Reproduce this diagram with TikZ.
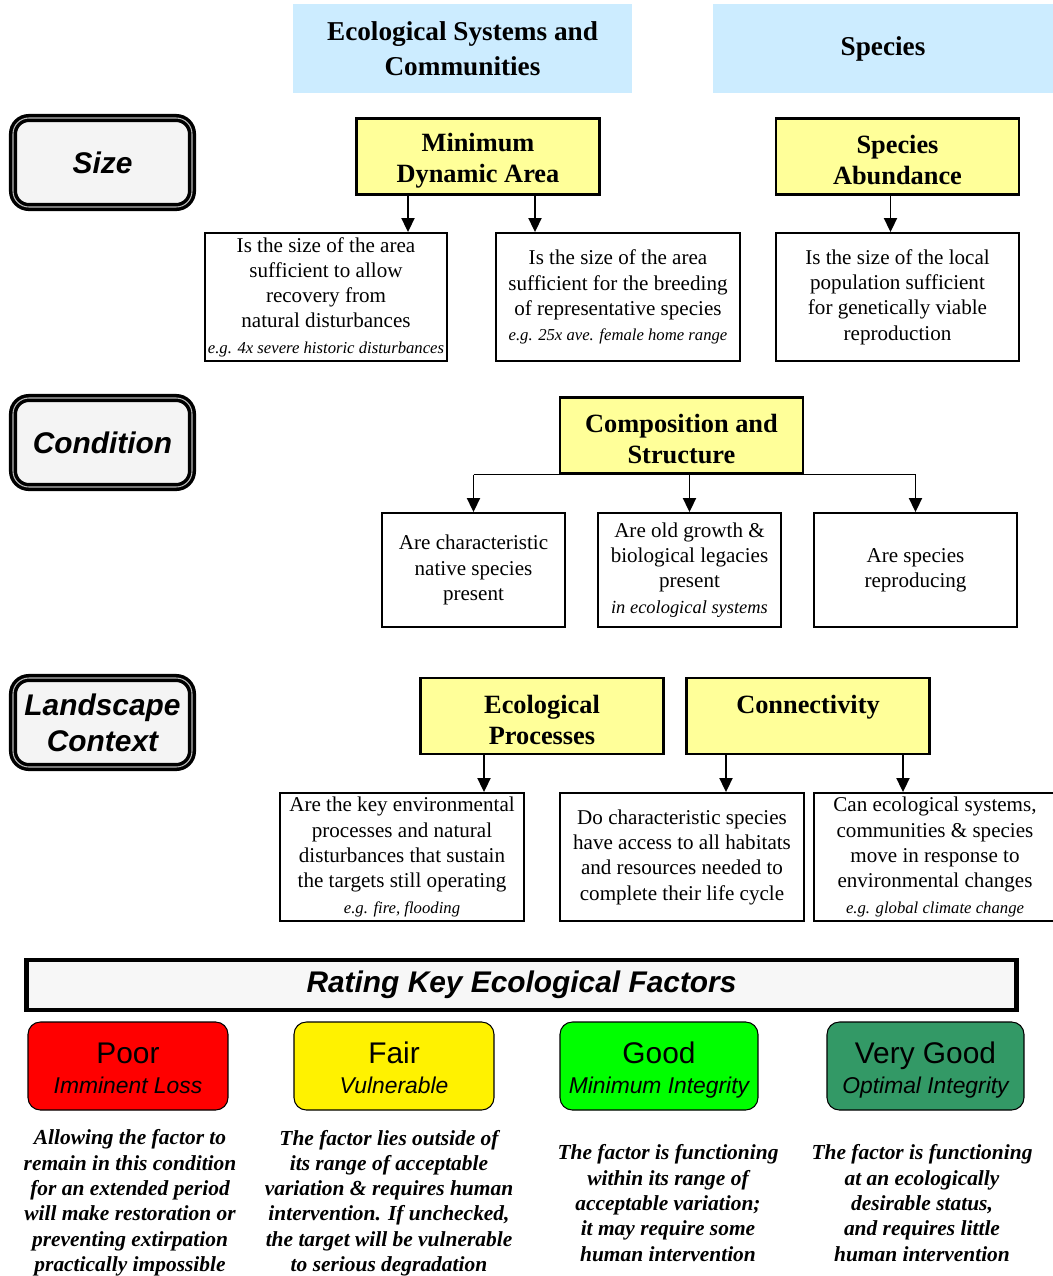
\documentclass[tikz,border=0pt]{standalone}
\usepackage{fontspec}
\setmainfont{Liberation Serif}
\setsansfont{Liberation Sans}
\usetikzlibrary{arrows.meta, calc}

\definecolor{hdrblue}{HTML}{CCECFF}
\definecolor{factyellow}{HTML}{FFFF99}
\definecolor{catgray}{HTML}{F4F4F4}
\definecolor{vgoodgreen}{HTML}{339966}

\newcommand{\egnote}[1]{{\fontsize{9.5}{12}\selectfont\itshape #1}}
\newcommand{\factorhead}[1]{\rule{0pt}{14.8pt}#1}
\newcommand{\ratinghead}[1]{\rule{0pt}{19pt}#1}
\newcommand{\ratingsub}[1]{{\fontsize{13}{15}\selectfont\itshape\strut #1}}

\begin{document}
\begin{tikzpicture}[x=0.02cm, y=-0.02cm,
    colhead/.style={fill=hdrblue, inner sep=0pt, align=center,
        font=\fontsize{15.5}{20}\selectfont\bfseries},
    catbox/.style={draw, line width=2pt, double=gray!55, double distance=0.6pt,
        rounded corners=9pt, fill=catgray, minimum width=3.58cm, minimum height=1.78cm,
        align=center, font=\fontsize{17}{20.5}\selectfont\sffamily\bfseries\itshape},
    factor/.style={draw, line width=1.3pt, fill=factyellow, minimum width=4.86cm,
        minimum height=1.52cm, align=center, font=\fontsize{15}{17.6}\selectfont\bfseries},
    question/.style={draw, line width=1.1pt, minimum height=2.56cm, inner sep=1pt,
        align=center, font=\fontsize{12}{14.4}\selectfont},
    arr/.style={line width=0.8pt, -{Triangle[width=7.5pt,length=8pt]}},
    keybox/.style={draw, line width=2.4pt, fill=gray!6, minimum width=19.8cm,
        minimum height=1cm, font=\fontsize{17}{20}\selectfont\sffamily\bfseries\itshape},
    rating/.style={draw, line width=0.6pt, rounded corners=7pt, minimum width=4cm,
        minimum height=1.76cm, align=center, font=\fontsize{17}{17}\selectfont\sffamily},
    ratingnote/.style={inner sep=0pt, align=center,
        font=\fontsize{12.2}{14.4}\selectfont\bfseries\itshape}]

    \useasboundingbox (0,0) rectangle (1053,1276);

    % column headers
    \node[colhead, minimum width=6.78cm, minimum height=1.78cm] (hdeco) at (462.5,48.5)
        {Ecological Systems and\\Communities};
    \node[colhead, minimum width=6.8cm, minimum height=1.78cm] (hspec) at (883,48.5) {Species};

    % Size
    \node[catbox] (size) at (102.5,162.5) {Size};
    \node[factor] (mda) at (478,156.5) {\factorhead{Minimum}\\Dynamic Area};
    \node[factor] (sab) at (897.5,156.5) {\factorhead{Species}\\Abundance};
    \node[question, minimum width=4.84cm] (sza) at (326,297)
        {Is the size of the area\\sufficient to allow\\recovery from\\natural disturbances\\\egnote{e.g. 4x severe historic disturbances}};
    \node[question, minimum width=4.88cm] (szb) at (618,297)
        {Is the size of the area\\sufficient for the breeding\\of representative species\\\egnote{e.g. 25x ave. female home range}};
    \node[question, minimum width=4.86cm] (szc) at (897.5,297)
        {Is the size of the local\\population sufficient\\for genetically viable\\reproduction};
    \coordinate (mdaL) at ($(mda.south)+(-70,0)$);
    \coordinate (mdaR) at ($(mda.south)+(57,0)$);
    \coordinate (sabM) at ($(sab.south)+(-7,0)$);
    \draw[arr] (mdaL) -- (mdaL |- sza.north);
    \draw[arr] (mdaR) -- (mdaR |- szb.north);
    \draw[arr] (sabM) -- (sabM |- szc.north);

    % Condition
    \node[catbox] (cond) at (102.5,442.5) {Condition};
    \node[factor] (cs) at (681.5,435.5) {\factorhead{Composition and}\\Structure};
    \node[question, minimum width=3.66cm, minimum height=2.28cm] (cda) at (473.5,570)
        {Are characteristic\\native species\\present};
    \node[question, minimum width=3.66cm, minimum height=2.28cm] (cdb) at (689.5,570)
        {Are old growth \&\\biological legacies\\present\\{\fontsize{10.5}{13}\selectfont\itshape in ecological systems}};
    \node[question, minimum width=4.06cm, minimum height=2.28cm] (cdc) at (915.5,570)
        {Are species\\reproducing};
    \draw[line width=0.8pt] (cda.north |- cs.south) -- (cdc.north |- cs.south);
    \foreach \c in {cda,cdb,cdc}
        \draw[arr] (\c.north |- cs.south) -- (\c.north);

    % Landscape Context
    \node[catbox] (land) at (102.5,722.5) {Landscape\\Context};
    \node[factor] (ep) at (542,716) {\factorhead{Ecological}\\Processes};
    \node[factor] (con) at (808,716) {\factorhead{Connectivity}\\\mbox{}};
    \node[question, minimum width=4.88cm] (lca) at (402,857)
        {Are the key environmental\\processes and natural\\disturbances that sustain\\the targets still operating\\\egnote{e.g. fire, flooding}};
    \node[question, minimum width=4.88cm] (lcb) at (682,857)
        {Do characteristic species\\have access to all habitats\\and resources needed to\\complete their life cycle};
    \node[question, minimum width=4.84cm] (lcc) at (935,857)
        {Can ecological systems,\\communities \& species\\move in response to\\environmental changes\\\egnote{e.g. global climate change}};
    \coordinate (epM) at ($(ep.south)+(-58,0)$);
    \coordinate (conL) at ($(con.south)+(-82,0)$);
    \coordinate (conR) at ($(con.south)+(95,0)$);
    \draw[arr] (epM) -- (epM |- lca.north);
    \draw[arr] (conL) -- (conL |- lcb.north);
    \draw[arr] (conR) -- (conR |- lcc.north);

    % rating key
    \node[keybox] (key) at (521.5,985) {Rating Key Ecological Factors};
    \node[rating, fill=red] (poor) at (128,1066)
        {\ratinghead{Poor}\\\ratingsub{Imminent Loss}};
    \node[rating, fill=yellow] (fair) at (394,1066)
        {\ratinghead{Fair}\\\ratingsub{Vulnerable}};
    \node[rating, fill=green, minimum width=3.96cm] (good) at (659,1066)
        {\ratinghead{Good}\\\ratingsub{Minimum Integrity}};
    \node[rating, fill=vgoodgreen, minimum width=3.94cm] (vgood) at (925.5,1066)
        {\ratinghead{Very Good}\\\ratingsub{Optimal Integrity}};

    \node[ratingnote] (poornote) at (130,1203)
        {Allowing the factor to\\remain in this condition\\for an extended period\\will make restoration or\\preventing extirpation\\practically impossible};
    \node[ratingnote] (fairnote) at (389,1203)
        {The factor lies outside of\\its range of acceptable\\variation \& requires human\\intervention. If unchecked,\\the target will be vulnerable\\to serious degradation};
    \node[ratingnote] (goodnote) at (668,1203)
        {The factor is functioning\\within its range of\\acceptable variation;\\it may require some\\human intervention};
    \node[ratingnote] (vgoodnote) at (922,1203)
        {The factor is functioning\\at an ecologically\\desirable status,\\and requires little\\human intervention};
\end{tikzpicture}
\end{document}
